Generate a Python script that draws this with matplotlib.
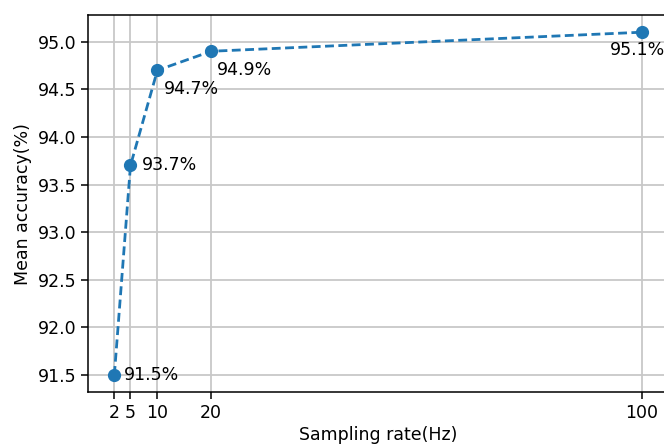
import matplotlib
matplotlib.use("Agg")
import matplotlib.pyplot as plt

# Data
rates = [2, 5, 10, 20, 100]
accuracy = [91.5, 93.7, 94.7, 94.9, 95.1]
labels = ["91.5%", "93.7%", "94.7%", "94.9%", "95.1%"]

# label offsets in pixels (dx, dy)
offsets = [(10, 0), (11, 0), (6, -19), (6, -19), (-32, -18)]

fig = plt.figure(figsize=(6.64, 4.44), dpi=100)
ax = fig.add_axes([0.1325, 0.117, 1.006 - 0.1325, 0.966 - 0.117])

ax.plot(rates, accuracy, linestyle='--', marker='o', color='#1f77b4',
        linewidth=2.0, markersize=8.5, dashes=(3.2, 1.6))

for x, y, lab, (dx, dy) in zip(rates, accuracy, labels, offsets):
    ax.annotate(lab, (x, y), xytext=(dx, dy), textcoords='offset pixels',
                ha='left', va='center', fontsize=12.5)

ax.set_xticks(rates)
ax.set_xticklabels([str(r) for r in rates])
ax.set_yticks([91.5, 92.0, 92.5, 93.0, 93.5, 94.0, 94.5, 95.0])
ax.tick_params(labelsize=12.5, width=1.1, length=5)
for s in ax.spines.values():
    s.set_linewidth(1.1)
ax.grid(True, color='#c8c8c8', linewidth=1.3)
ax.set_axisbelow(True)

ax.set_xlabel("Sampling rate(Hz)", fontsize=12.5, labelpad=3)
ax.set_ylabel("Mean accuracy(%)", fontsize=12.5, labelpad=4)

fig.savefig("out.png", dpi=100)
